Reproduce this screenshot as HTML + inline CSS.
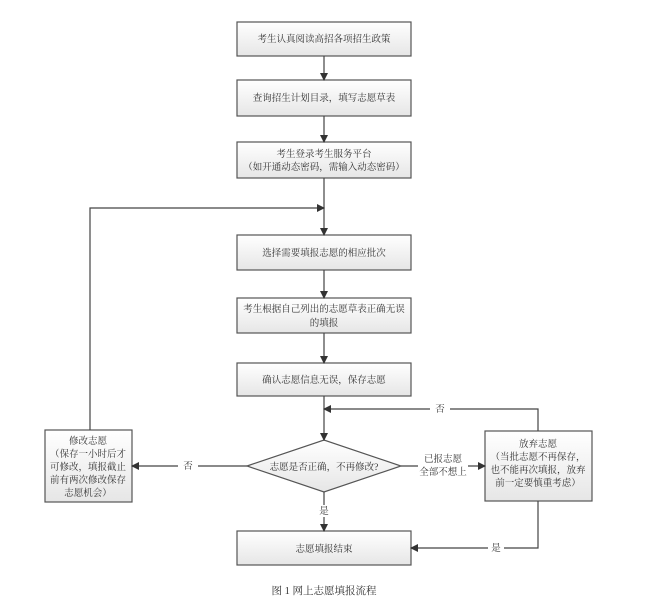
<!DOCTYPE html>
<html><head><meta charset="utf-8"><style>
body{margin:0;background:#fff;}
svg text{font-family:"Liberation Serif","Noto Serif CJK SC",serif;font-size:9.5px;fill:#333;text-anchor:middle;}
</style></head><body>
<svg width="669" height="611" viewBox="0 0 669 611" xmlns="http://www.w3.org/2000/svg">
<defs>
<linearGradient id="g" x1="0" y1="0" x2="0" y2="1"><stop offset="0" stop-color="#ffffff"/><stop offset="1" stop-color="#e6e6e6"/></linearGradient>
<marker id="a" markerWidth="8" markerHeight="8" refX="7" refY="4" orient="auto" markerUnits="userSpaceOnUse"><path d="M0,0 L8,4 L0,8 z" fill="#333"/></marker>
</defs>
<g stroke="#555" stroke-width="1.2" fill="url(#g)">
<rect x="237" y="22" width="174" height="34"/>
<rect x="237" y="80" width="174" height="36"/>
<rect x="237" y="142" width="174" height="36"/>
<rect x="237" y="235" width="174" height="35"/>
<rect x="237" y="298" width="174" height="35"/>
<rect x="237" y="363" width="174" height="33"/>
<rect x="45" y="430" width="87" height="72"/>
<rect x="485" y="431" width="107" height="70"/>
<rect x="237" y="531" width="174" height="34"/>
<polygon points="247,466 324,440 401,466 324,492"/>
</g>
<g stroke="#444" stroke-width="1.2" fill="none" marker-end="url(#a)">
<line x1="324" y1="56" x2="324" y2="80"/>
<line x1="324" y1="116" x2="324" y2="142"/>
<line x1="324" y1="178" x2="324" y2="235"/>
<polyline points="90,430 90,208 324,208"/>
<line x1="324" y1="270" x2="324" y2="298"/>
<line x1="324" y1="333" x2="324" y2="363"/>
<line x1="324" y1="396" x2="324" y2="440"/>
<polyline points="538,431 538,409 324,409"/>
<line x1="247" y1="466" x2="132" y2="466"/>
<line x1="401" y1="466" x2="485" y2="466"/>
<line x1="324" y1="492" x2="324" y2="531"/>
<polyline points="538,501 538,548 411,548"/>
</g>
<g>
<rect x="430" y="403" width="20" height="12" fill="#fff"/>
<rect x="178" y="460" width="20" height="12" fill="#fff"/>
<rect x="418" y="452" width="50" height="26" fill="#fff"/>
<rect x="488" y="542" width="16" height="12" fill="#fff"/>
<rect x="316" y="505" width="16" height="12" fill="#fff"/>
</g>
<text x="324" y="42">考生认真阅读高招各项招生政策</text>
<text x="324" y="101">查询招生计划目录，填写志愿草表</text>
<text x="324" y="157">考生登录考生服务平台</text>
<text x="324" y="170">（如开通动态密码，需输入动态密码）</text>
<text x="324" y="256">选择需要填报志愿的相应批次</text>
<text x="324" y="312">考生根据自己列出的志愿草表正确无误</text>
<text x="324" y="326">的填报</text>
<text x="324" y="383">确认志愿信息无误，保存志愿</text>
<text x="324" y="470">志愿是否正确，不再修改?</text>
<text x="88" y="444">修改志愿</text>
<text x="88" y="457">（保存一小时后才</text>
<text x="88" y="470">可修改，填报截止</text>
<text x="88" y="483">前有两次修改保存</text>
<text x="88" y="496">志愿机会）</text>
<text x="538" y="447">放弃志愿</text>
<text x="538" y="460">（当批志愿不再保存，</text>
<text x="538" y="473">也不能再次填报，放弃</text>
<text x="538" y="486">前一定要慎重考虑）</text>
<text x="440" y="412">否</text>
<text x="188" y="469">否</text>
<text x="443" y="462">已报志愿</text>
<text x="443" y="475">全部不想上</text>
<text x="324" y="514">是</text>
<text x="496" y="551">是</text>
<text x="324" y="552">志愿填报结束</text>
<text x="324" y="594" style="font-size:10.5px">图 1 网上志愿填报流程</text>
</svg>
</body></html>
